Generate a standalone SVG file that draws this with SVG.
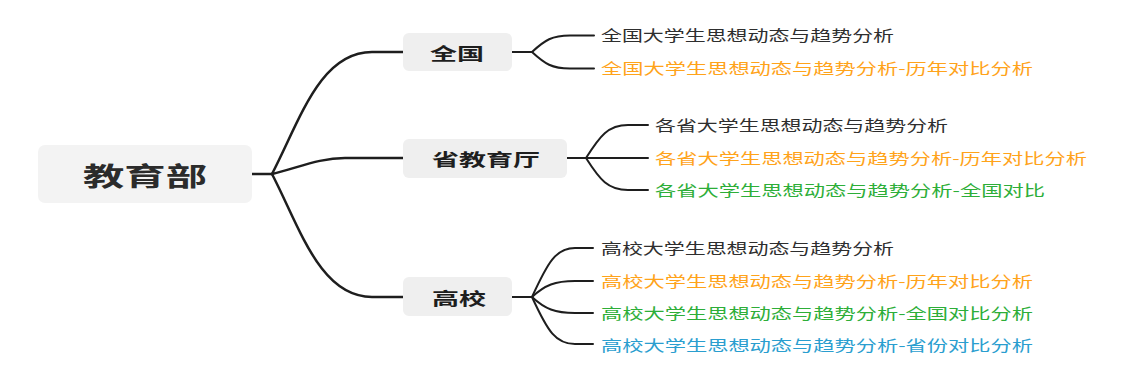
<svg xmlns="http://www.w3.org/2000/svg" width="1135" height="381" viewBox="0 0 1135 381">
<style>
.cn{font-family:"Noto Sans CJK SC","Noto Sans",sans-serif;dominant-baseline:central}
.root{font-size:26px;font-weight:bold;fill:#2b2b2b}
.sub{font-size:17px;font-weight:bold;fill:#1e1e1e}
.leaf{font-size:15px}
.k{fill:#2e2e2e}.o{fill:#FFA31A}.g{fill:#2DAE38}.b{fill:#2A9ECF}
.box{fill:#efefef}
.c1{fill:none;stroke:#1e1e1e;stroke-width:2.5;stroke-linecap:round}
.c2{fill:none;stroke:#1e1e1e;stroke-width:2;stroke-linecap:round}
</style>
<rect width="1135" height="381" fill="#ffffff"/>
<g id="connectors">
<path class="c1" d="M252,174 L272,174"/>
<path class="c1" d="M272,174 C300,120 320,52 372,52 L403,52"/>
<path class="c1" d="M272,174 C300,167 320,158 345,158 L403,158"/>
<path class="c1" d="M272,174 C300,228 320,297 372,297 L403,297"/>
<path class="c2" d="M512,52 L532,52"/>
<path class="c2" d="M532,52 C545,40 552,35.5 570,35.5 L594,35.5"/>
<path class="c2" d="M532,52 C545,64 552,68.5 570,68.5 L594,68.5"/>
<path class="c2" d="M567,158 L586,158"/>
<path class="c2" d="M586,158 C600,136 608,125 628,125 L648,125"/>
<path class="c2" d="M586,158 L648,158"/>
<path class="c2" d="M586,158 C600,180 608,190 628,190 L648,190"/>
<path class="c2" d="M512,297 L532,297"/>
<path class="c2" d="M532,297 C548,262 556,248 575,248 L593,248"/>
<path class="c2" d="M532,297 C545,285 555,281 575,281 L593,281"/>
<path class="c2" d="M532,297 C545,309 555,313 575,313 L593,313"/>
<path class="c2" d="M532,297 C548,332 556,344 575,344 L593,344"/>
</g>
<g id="root">
<rect x="38" y="145" width="214" height="58" rx="7" fill="#f3f3f3"/>
<text class="cn root" x="83" y="174" textLength="124" lengthAdjust="spacingAndGlyphs">教育部</text>
</g>
<g id="quanguo">
<rect class="box" x="403" y="33" width="109" height="38" rx="6"/>
<text class="cn sub" x="430" y="52" textLength="54" lengthAdjust="spacingAndGlyphs">全国</text>
</g>
<g id="shengjiaoyuting">
<rect class="box" x="403" y="139" width="164" height="39" rx="6"/>
<text class="cn sub" x="432" y="158" textLength="108" lengthAdjust="spacingAndGlyphs">省教育厅</text>
</g>
<g id="gaoxiao">
<rect class="box" x="403" y="277" width="109" height="39" rx="6"/>
<text class="cn sub" x="432" y="297" textLength="54" lengthAdjust="spacingAndGlyphs">高校</text>
</g>
<g id="qg1"><text class="cn leaf k" x="601" y="34.5" textLength="293" lengthAdjust="spacingAndGlyphs">全国大学生思想动态与趋势分析</text></g>
<g id="qg2"><text class="cn leaf o" x="601" y="67.5" textLength="432" lengthAdjust="spacingAndGlyphs">全国大学生思想动态与趋势分析-历年对比分析</text></g>
<g id="sj1"><text class="cn leaf k" x="655" y="124.5" textLength="293" lengthAdjust="spacingAndGlyphs">各省大学生思想动态与趋势分析</text></g>
<g id="sj2"><text class="cn leaf o" x="655" y="157.5" textLength="432" lengthAdjust="spacingAndGlyphs">各省大学生思想动态与趋势分析-历年对比分析</text></g>
<g id="sj3"><text class="cn leaf g" x="655" y="189.5" textLength="390" lengthAdjust="spacingAndGlyphs">各省大学生思想动态与趋势分析-全国对比</text></g>
<g id="gx1"><text class="cn leaf k" x="601" y="247.5" textLength="293" lengthAdjust="spacingAndGlyphs">高校大学生思想动态与趋势分析</text></g>
<g id="gx2"><text class="cn leaf o" x="601" y="280.5" textLength="432" lengthAdjust="spacingAndGlyphs">高校大学生思想动态与趋势分析-历年对比分析</text></g>
<g id="gx3"><text class="cn leaf g" x="601" y="312.5" textLength="432" lengthAdjust="spacingAndGlyphs">高校大学生思想动态与趋势分析-全国对比分析</text></g>
<g id="gx4"><text class="cn leaf b" x="601" y="344.5" textLength="432" lengthAdjust="spacingAndGlyphs">高校大学生思想动态与趋势分析-省份对比分析</text></g>
</svg>
